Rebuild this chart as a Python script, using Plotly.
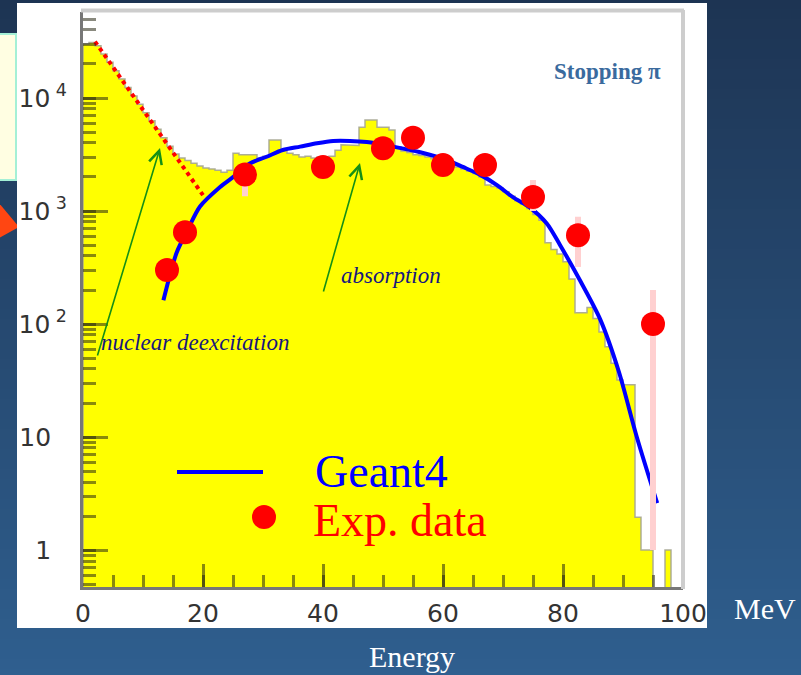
import plotly.graph_objects as go

# ---------------- data ----------------
# Geant4 histogram: 1 MeV bins from 0 to 100 MeV
bin_width = 1.0
hist_counts = [30000, 31000, 29000, 24500, 20700, 17400, 14700, 12400, 10400, 8800,
               7400, 6300, 5300, 4450, 3750, 3200, 2950, 2800, 2650, 2500,
               2400, 2350, 2300, 2200, 2300, 3250, 3150, 3150, 3150, 2950,
               3050, 4250, 4250, 3450, 3250, 3150, 3000, 3050, 2950, 3000,
               3000, 3050, 3450, 3850, 3850, 3800, 5500, 6400, 6400, 5500,
               5500, 5200, 3700, 3400, 3300, 3150, 3100, 3000, 2900, 2800,
               2700, 2550, 2450, 2350, 2250, 2150, 2000, 1700, 1650, 1600,
               1480, 1350, 1230, 1150, 1050, 930, 830, 525, 457, 417,
               355, 250, 126, 126, 140, 112, 85, 63, 45, 32,
               29, 29, 1.95, 1, 1, 0, 0, 1, 0, 0]

# Geant4 smooth curve (absorption component)
g4_energy = [13.4, 15.6, 17.5, 19.5, 22.8, 25, 27.8, 30.6, 33.3, 36.2, 39, 41.7, 44.5,
             47.3, 51.7, 56.2, 60.7, 63.3, 66.2, 69, 71.7, 74.5, 77.3, 79.5, 82.8,
             86.2, 89.3, 92.3, 95.7]
g4_values = [162, 427, 690, 1096, 1622, 1995, 2630, 3020, 3467, 3715, 3981, 4169, 4169,
             4074, 3715, 3311, 2818, 2455, 2089, 1698, 1318, 1072, 776, 501, 245,
             110, 38, 10, 2.6]

# nuclear deexcitation component (dotted)
deex_energy = [2, 11, 20]
deex_values = [31600, 6600, 1380]

# experimental data
exp_energy = [14, 17, 27, 40, 50, 55, 60, 67, 75, 82.5, 95]
exp_values = [300, 650, 2100, 2450, 3600, 4450, 2550, 2550, 1330, 610, 100]
exp_high = [330, 700, 2300, 2700, 3900, 4900, 2800, 2800, 1880, 890, 200]
exp_low = [270, 600, 1350, 2150, 3300, 4000, 2300, 2300, 1000, 320, 1]

x_tick_vals = [0, 20, 40, 60, 80, 100]
x_tick_text = ["0", "20", "40", "60", "80", "100"]
y_tick_vals = [1, 10, 100, 1000, 10000]
y_tick_text = ["1\u00a0\u00a0", "10\u00a0\u00a0", "10<sup>\u00a02</sup>",
               "10<sup>\u00a03</sup>", "10<sup>\u00a04</sup>"]

# ---------------- geometry ----------------
W, H = 801, 675
L, R, T, B = 83, 683, 12, 587


def pxx(p):
    return (p - L) / (R - L)


def pxy(p):
    return (B - p) / (B - T)


FLOOR = 0.1  # drawn below the visible axis range

# histogram as a step polygon
hx, hy = [0.0], [FLOOR]
for i, v in enumerate(hist_counts):
    vv = v if v > 0 else FLOOR
    hx += [i * bin_width, (i + 1) * bin_width]
    hy += [vv, vv]
hx.append(len(hist_counts) * bin_width)
hy.append(FLOOR)

fig = go.Figure()
fig.add_trace(go.Scatter(x=hx, y=hy, mode="lines", fill="toself",
                         fillcolor="#ffff00",
                         line=dict(color="rgba(165,165,145,0.9)", width=1.5),
                         hoverinfo="skip"))
fig.add_trace(go.Scatter(x=deex_energy, y=deex_values, mode="lines",
                         line=dict(color="#ff0000", width=4, dash="dot")))
fig.add_trace(go.Scatter(x=g4_energy, y=g4_values, mode="lines",
                         line=dict(color="#0000ff", width=4, shape="spline", smoothing=0.8)))
fig.add_trace(go.Scatter(
    x=exp_energy, y=exp_values, mode="markers",
    marker=dict(color="#ff0000", size=24, line=dict(width=0)),
    error_y=dict(type="data", symmetric=False,
                 array=[h - v for h, v in zip(exp_high, exp_values)],
                 arrayminus=[v - lo for v, lo in zip(exp_values, exp_low)],
                 color="#ffd0d0", thickness=6, width=0)))

# ---------------- decorations ----------------
shapes = []
top_c = (29, 52, 83)
bot_c = (47, 95, 143)
nb = 68
for i in range(nb):
    t = (i + 0.5) / nb
    c = tuple(int(round(a + (b - a) * t)) for a, b in zip(top_c, bot_c))
    shapes.append(dict(type="rect", xref="paper", yref="paper", layer="below",
                       x0=pxx(-2), x1=pxx(W + 2), y0=pxy(i * 10 - 1), y1=pxy((i + 1) * 10 + 1),
                       fillcolor="rgb(%d,%d,%d)" % c, line=dict(width=0)))
# pale box at left edge
shapes.append(dict(type="rect", xref="paper", yref="paper", layer="below",
                   x0=pxx(-4), x1=pxx(16), y0=pxy(34), y1=pxy(180),
                   fillcolor="#fffee2", line=dict(color="#a4f0d6", width=2)))
# red arrowhead at left edge
tri = "M %f,%f L %f,%f L %f,%f Z" % (pxx(-1), pxy(203), pxx(19), pxy(227), pxx(-1), pxy(238))
shapes.append(dict(type="path", xref="paper", yref="paper", layer="below", path=tri,
                   fillcolor="#ff4612", line=dict(width=0)))
# white panel
shapes.append(dict(type="rect", xref="paper", yref="paper", layer="below",
                   x0=pxx(17), x1=pxx(707), y0=pxy(3), y1=pxy(628),
                   fillcolor="#ffffff", line=dict(width=0)))
# frame top / right
shapes.append(dict(type="line", xref="paper", yref="paper", layer="above",
                   x0=pxx(81), x1=pxx(684), y0=1 + 1.5 / (B - T), y1=1 + 1.5 / (B - T),
                   line=dict(color="#cdcdcd", width=4)))
shapes.append(dict(type="line", xref="paper", yref="paper", layer="above",
                   x0=1, x1=1, y0=pxy(589), y1=pxy(10),
                   line=dict(color="#cdcdcd", width=4)))
# legend keys
shapes.append(dict(type="line", xref="paper", yref="paper", layer="above",
                   x0=pxx(177), x1=pxx(263), y0=pxy(472), y1=pxy(472),
                   line=dict(color="#0000ff", width=4)))
shapes.append(dict(type="circle", xref="paper", yref="paper", layer="above",
                   x0=pxx(252), x1=pxx(276), y0=pxy(505), y1=pxy(529),
                   fillcolor="#ff0000", line=dict(width=0)))

serif = "Liberation Serif"
ann = []


def text(s, x, y, size, color, xanchor="left", family=serif):
    ann.append(dict(text=s, xref="paper", yref="paper", x=pxx(x), y=pxy(y),
                    xanchor=xanchor, yanchor="middle", showarrow=False,
                    font=dict(family=family, size=size, color=color)))


text("<b>Stopping π</b>", 663, 71, 23, "#3a6a9e", xanchor="right")
text("<i>absorption</i>", 339, 275, 23, "#16167e")
text("<i>nuclear deexcitation</i>", 99, 342, 23, "#16167e")
text("Geant4", 313, 471, 46, "#0000ff")
text("Exp. data", 311, 520, 46, "#ff0000")
text("MeV", 732, 608, 30, "#ffffff")
text("Energy", 412, 656, 30, "#ffffff", xanchor="center")

for hx_, hy_, tx_, ty_ in [(160, 148, 97, 357), (360, 163, 323, 293)]:
    ann.append(dict(text="", xref="paper", yref="paper", x=pxx(hx_), y=pxy(hy_),
                    axref="pixel", ayref="pixel", ax=tx_ - hx_, ay=ty_ - hy_,
                    showarrow=True, arrowhead=5, arrowsize=1.6, arrowwidth=1.6,
                    arrowcolor="#159015", standoff=0))

tick_col = "rgba(40,40,20,0.55)"
fig.update_layout(
    width=W, height=H,
    margin=dict(l=L, r=W - R, t=T, b=H - B, pad=0),
    paper_bgcolor="#264a70", plot_bgcolor="rgba(0,0,0,0)",
    showlegend=False, shapes=shapes, annotations=ann,
    xaxis=dict(range=[0, 100], showgrid=False, zeroline=False,
               showline=True, linecolor="#777777", linewidth=3,
               ticks="inside", ticklen=23, tickwidth=3, tickcolor=tick_col,
               tickmode="array", tickvals=x_tick_vals, ticktext=x_tick_text,
               tickfont=dict(family="DejaVu Sans", size=25, color="#333333"),
               ticklabelstandoff=2,
               minor=dict(dtick=5, ticks="inside", ticklen=12, tickwidth=3,
                          tickcolor=tick_col, showgrid=False)),
    yaxis=dict(type="log", range=[-0.327, 4.761], showgrid=False, zeroline=False,
               showline=True, linecolor="#777777", linewidth=3,
               ticks="inside", ticklen=25, tickwidth=3, tickcolor=tick_col,
               tickmode="array", tickvals=y_tick_vals, ticktext=y_tick_text,
               tickfont=dict(family="DejaVu Sans", size=25, color="#333333"),
               ticklabelstandoff=8,
               minor=dict(dtick="D1", ticks="inside", ticklen=13, tickwidth=3,
                          tickcolor=tick_col, showgrid=False)),
)

fig.write_html("out.html",
               config={"displayModeBar": False},
               post_script="document.body.style.margin='0px';"
                           "document.body.style.overflow='hidden';")
